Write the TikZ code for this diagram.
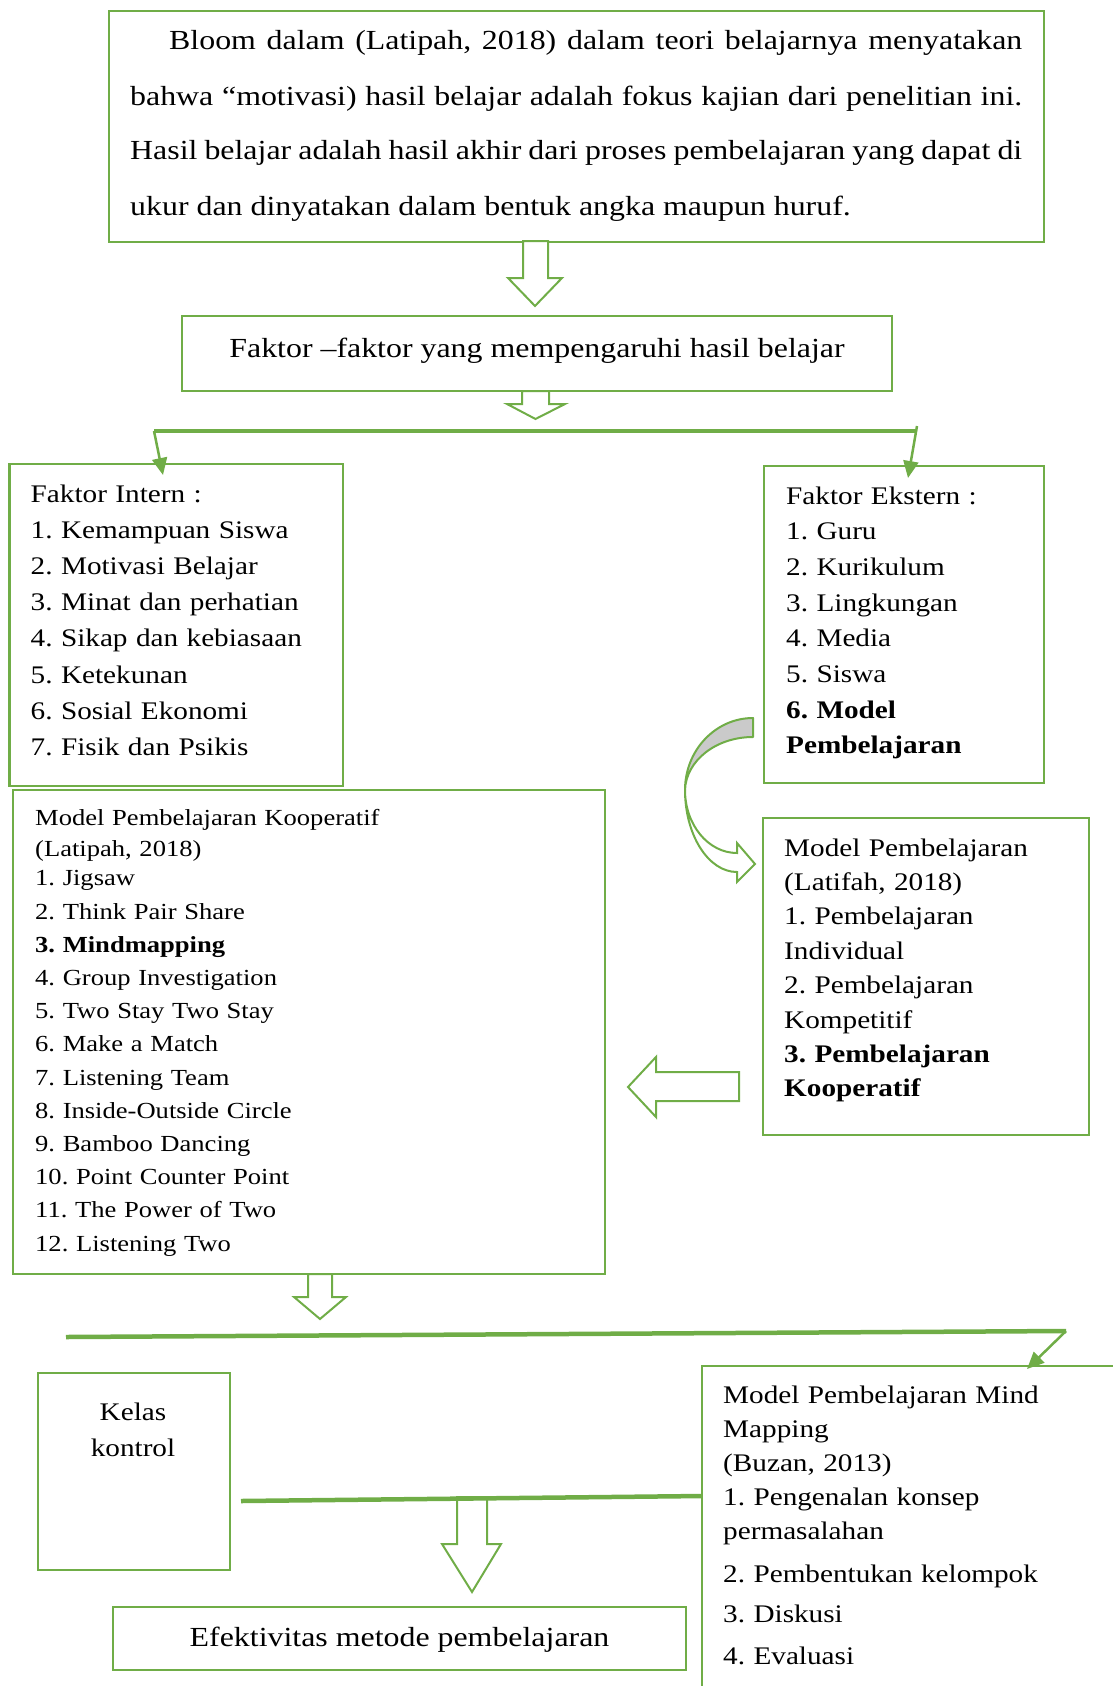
\documentclass[tikz,border=0pt]{standalone}
\usepackage{fontspec}
\setmainfont{Liberation Serif}[FakeStretch=1.155]
\usetikzlibrary{arrows.meta}
\definecolor{grn}{HTML}{70AD47}
\definecolor{gry}{HTML}{CACACA}
\frenchspacing
\begin{document}
\begin{tikzpicture}[x=1pt,y=-1pt,
  box/.style={draw=grn,line width=2.5pt,rectangle,inner sep=0pt},
  blk/.style={draw=grn,line width=2pt,fill=white,line join=miter},
  conn/.style={draw=grn,line width=4pt},
  branch/.style={draw=grn,line width=2.5pt,-{Triangle[length=17pt,width=15pt]}},
  txt/.style={inner sep=0pt,anchor=base west,align=left,text width=#1},
  ftA/.style={font=\fontsize{27.6pt}{55pt}\selectfont\frenchspacing},
  ftB/.style={font=\fontsize{25.3pt}{#1}\selectfont\frenchspacing},
  ftC/.style={font=\fontsize{23pt}{33.2pt}\selectfont\frenchspacing},
]
\useasboundingbox (0,0) rectangle (1112,1686);

% boxes
\node[box,minimum width=935pt,minimum height=231pt] (topbox) at (576.5,126.5) {};
\node[box,minimum width=710pt,minimum height=75pt] (fak) at (537,353.5) {};
\node[box,minimum width=333.5pt,minimum height=322pt] (intern) at (176.25,625) {};
\node[box,minimum width=280pt,minimum height=317pt] (ekstern) at (904,624.5) {};
\node[box,minimum width=326pt,minimum height=317pt] (latifah) at (926,976.5) {};
\node[box,minimum width=592pt,minimum height=484pt] (koop) at (309,1032) {};
\node[box,minimum width=192pt,minimum height=197pt] (kelas) at (134,1471.5) {};
\node[box,minimum width=573pt,minimum height=63pt] (efek) at (399.5,1638.5) {};
\draw[grn,line width=2.5pt] (702,1700) -- (702,1366) -- (1125,1366);

% texts
\node[txt=892pt,ftA] (toptext) at (130,50) {\spaceskip=7.97pt plus 8pt minus 4pt%
\hspace*{39pt}\makebox[853pt][s]{Bloom dalam (Latipah, 2018) dalam teori belajarnya menyatakan}\\
\makebox[892pt][s]{bahwa “motivasi) hasil belajar adalah fokus kajian dari penelitian ini.}\\
\makebox[892pt][s]{Hasil belajar adalah hasil akhir dari proses pembelajaran yang dapat di}\\
ukur dan dinyatakan dalam bentuk angka maupun huruf.};

\node[inner sep=0pt,anchor=base,ftA] (faktext) at (537,357) {Faktor –faktor yang mempengaruhi hasil belajar};

\node[txt=300pt,ftB=36.2pt] (interntext) at (30.5,502) {Faktor Intern :\\
1. Kemampuan Siswa\\
2. Motivasi Belajar\\
3. Minat dan perhatian\\
4. Sikap dan kebiasaan\\
5. Ketekunan\\
6. Sosial Ekonomi\\
7. Fisik dan Psikis};

\node[txt=250pt,ftB=35.7pt] (eksterntext) at (786,504) {Faktor Ekstern :\\
1. Guru\\
2. Kurikulum\\
3. Lingkungan\\
4. Media\\
5. Siswa\\
\textbf{6. Model}\\
\textbf{Pembelajaran}};

\node[txt=300pt,ftB=34.4pt] (latifahtext) at (784,856) {Model Pembelajaran\\
(Latifah, 2018)\\
1. Pembelajaran\\
Individual\\
2. Pembelajaran\\
Kompetitif\\
\textbf{3. Pembelajaran}\\
\textbf{Kooperatif}};

\node[txt=500pt,ftC] (kooptext) at (35,825) {Model Pembelajaran Kooperatif\\[-1.5pt]
(Latipah, 2018)\\[-4.1pt]
1. Jigsaw\\
2. Think Pair Share\\
\textbf{3. Mindmapping}\\
4. Group Investigation\\
5. Two Stay Two Stay\\
6. Make a Match\\
7. Listening Team\\
8. Inside-Outside Circle\\
9. Bamboo Dancing\\
10. Point Counter Point\\
11. The Power of Two\\
12. Listening Two};

\node[inner sep=0pt,anchor=base,align=center,text width=160pt,ftB=36pt] (kelastext) at (133,1420.7) {Kelas\\kontrol};

\node[txt=400pt,ftB=34pt] (mindtext) at (723,1403) {Model Pembelajaran Mind\\
Mapping\\
(Buzan, 2013)\\
1. Pengenalan konsep\\
permasalahan\\[9pt]
2. Pembentukan kelompok\\[6.7pt]
3. Diskusi\\[8pt]
4. Evaluasi};

\node[inner sep=0pt,anchor=base,ftA] (efektext) at (399.5,1646.7) {Efektivitas metode pembelajaran};

% block arrows
\draw[blk] (523,241) -- (548,241) -- (548,278) -- (562,278) -- (535,306) -- (508,278) -- (523,278) -- cycle;
\draw[blk] (522,391) -- (549,391) -- (549,404) -- (565,404) -- (535.5,419) -- (507,404) -- (522,404) -- cycle;
\draw[blk] (739,1072) -- (739,1101) -- (656,1101) -- (656,1117) -- (628,1087) -- (656,1057) -- (656,1072) -- cycle;
\draw[blk] (308,1274) -- (332,1274) -- (332,1297) -- (346,1297) -- (320,1319) -- (294,1297) -- (308,1297) -- cycle;
\draw[blk] (457,1497) -- (487,1497) -- (487,1544) -- (501,1544) -- (472,1592) -- (442,1544) -- (457,1544) -- cycle;

% connector lines
\coordinate (j1l) at (154,431);
\coordinate (j1r) at (917,431);
\coordinate (j1rt) at (917,426);
\coordinate (intop) at (163,475);
\coordinate (ektop) at (908,478);
\draw[conn] (j1l) -- (j1r);
\draw[branch] (j1l) -- (intop);
\draw[branch] (j1rt) -- (ektop);

\coordinate (j2l) at (66,1337);
\coordinate (j2r) at (1066,1331);
\coordinate (mindtop) at (1027,1369);
\draw[conn,line width=4.5pt] (j2l) -- (j2r);
\draw[branch] (j2r) -- (mindtop);

\coordinate (j3l) at (241,1501);
\coordinate (j3r) at (702,1496);
\draw[conn,line width=4.5pt] (j3l) -- (j3r);

% curved arrow
\filldraw[fill=gry,draw=grn,line width=2pt,line join=round] (753,718) .. controls (715.5,718) and (685,750.3) .. (685,790) .. controls (686,760.7) and (716,737) .. (753,737) -- cycle;
\filldraw[fill=white,draw=grn,line width=2pt,line join=miter] (685,790) .. controls (685,835) and (708.3,872) .. (737,872) -- (737,882) -- (755,864) -- (737,843) -- (737,853) .. controls (708.3,853) and (685,824.8) .. (685,790) -- cycle;
\end{tikzpicture}
\end{document}
